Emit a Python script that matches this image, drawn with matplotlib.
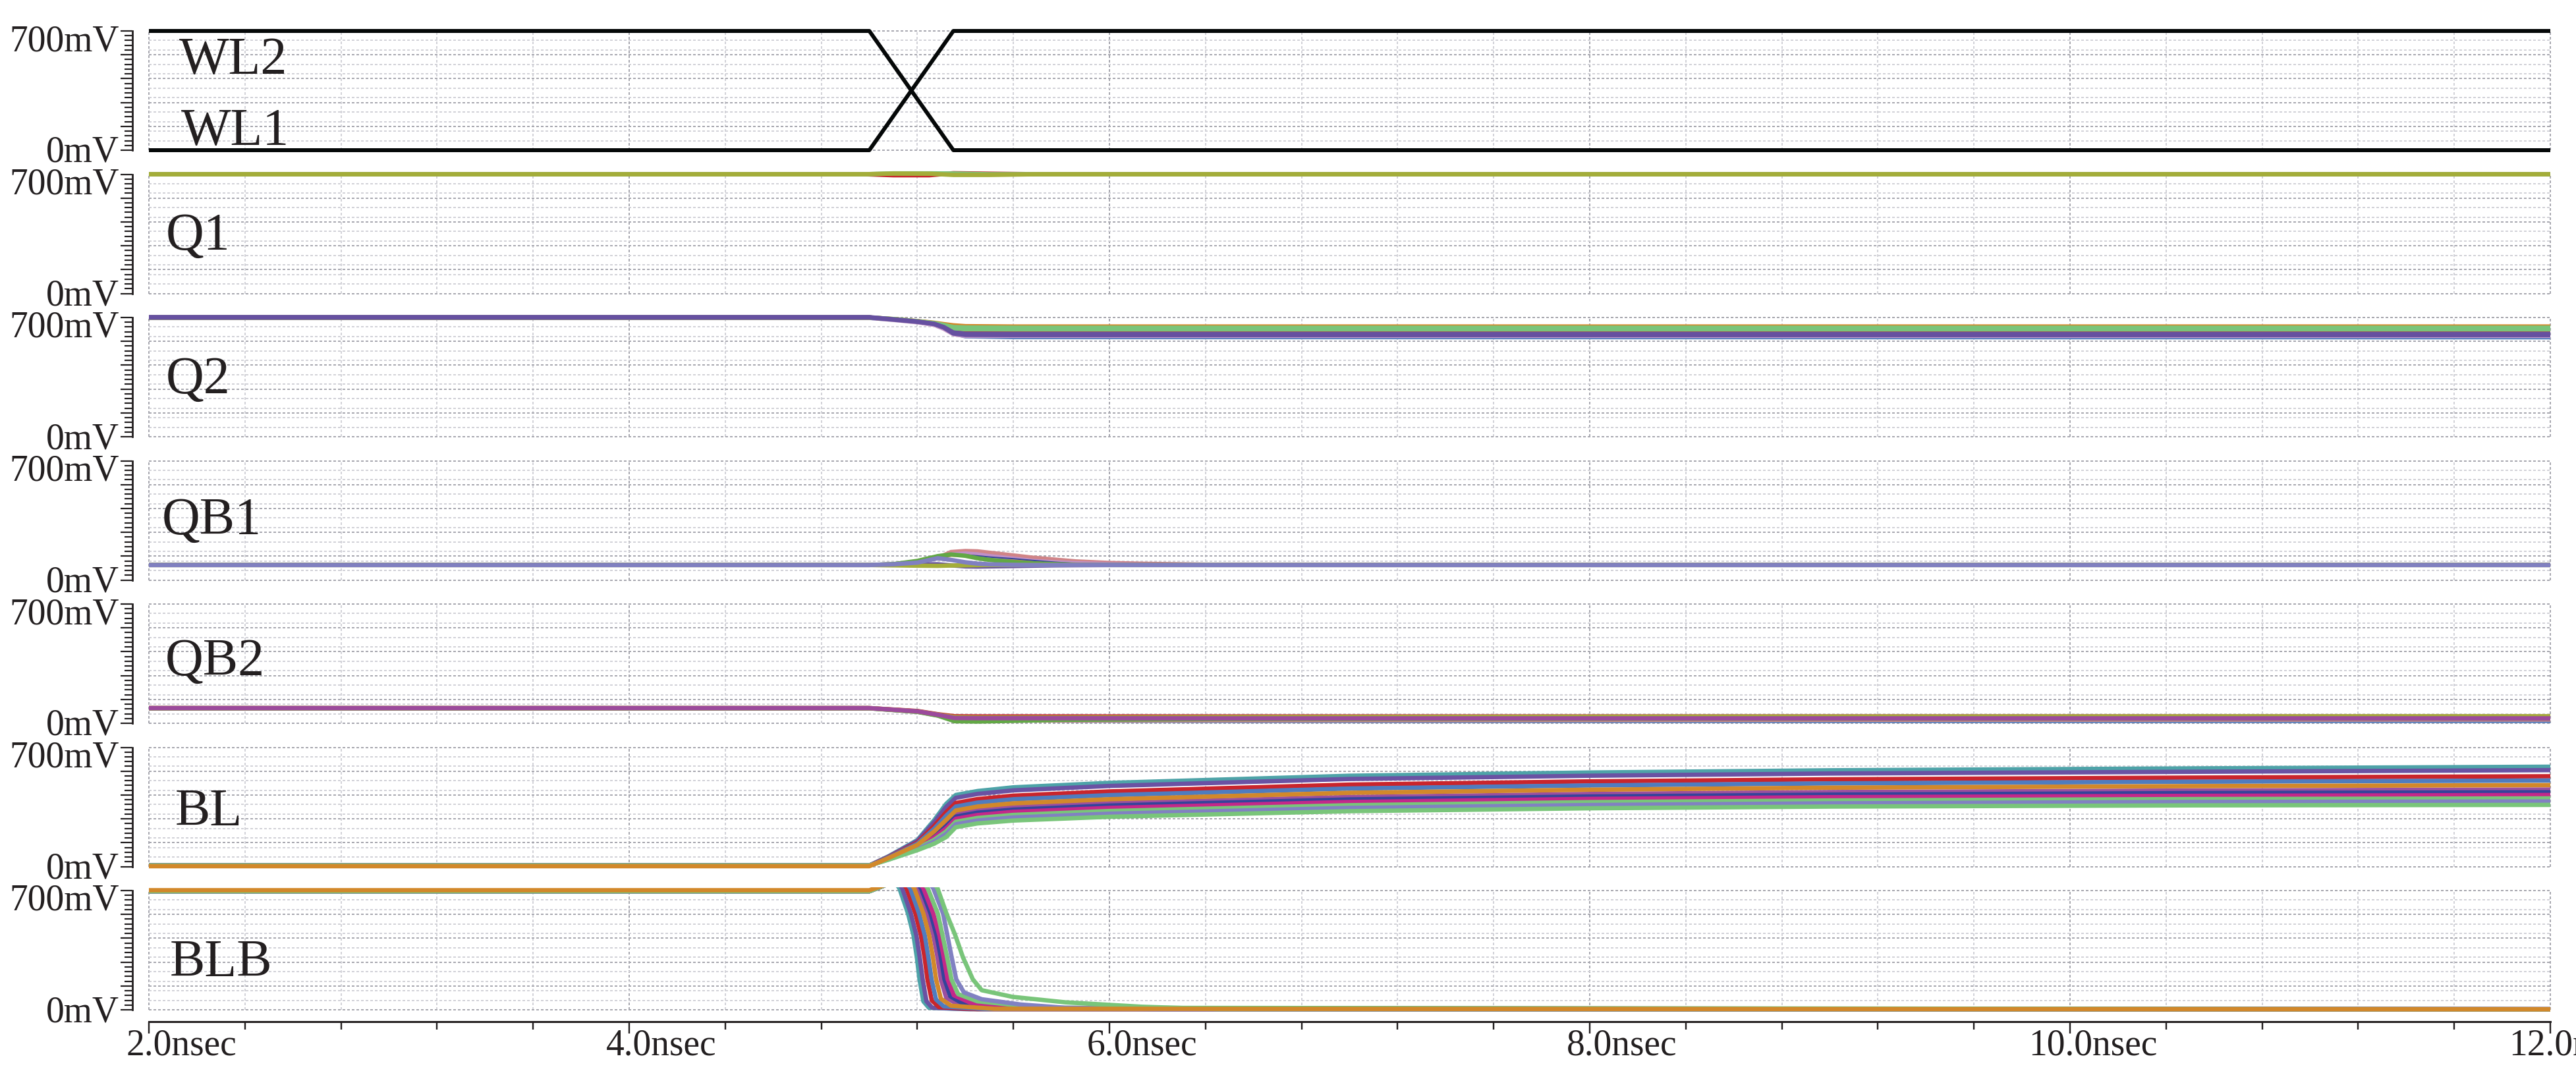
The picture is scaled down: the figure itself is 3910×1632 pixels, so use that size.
import matplotlib
matplotlib.use('Agg')
import matplotlib.pyplot as plt
from matplotlib.transforms import ScaledTranslation
from matplotlib.patches import Rectangle
from matplotlib.ticker import MultipleLocator

plt.rcParams['font.family'] = ['Liberation Serif', 'DejaVu Serif']

# ------------------------------------------------------------------ data
PANEL_NAMES = ['WL', 'Q1', 'Q2', 'QB1', 'QB2', 'BL', 'BLB']
X_TICKS = [2, 4, 6, 8, 10, 12]
X_TICK_LABELS = ['2.0nsec', '4.0nsec', '6.0nsec', '8.0nsec', '10.0nsec', '12.0nsec']
Y_TICKS = [0, 140, 280, 420, 560, 700]
Y_TICK_LABELS = ['0mV', '', '', '', '', '700mV']

# word lines
WL_T = [2.0, 5.0, 5.35, 12.0]
WL1_V = [0, 0, 700, 700]
WL2_V = [700, 700, 0, 0]

# Q1 (mV)
Q1_T = [2.0, 4.98, 5.1, 5.25, 5.35, 5.5, 5.7, 12.0]
Q1_RED = [700, 700, 694, 694, 706, 703, 700, 700]
Q1_GREEN = [700, 700, 705, 705, 704, 700, 700, 700]
Q1_OLIVE = [700, 700, 704, 703, 696, 696, 700, 700]

# Q2 (mV)
Q2_T = [2.0, 5.0, 5.1, 5.2, 5.27, 5.31, 5.35, 5.4, 5.6, 12.0]
Q2_BLUE = [698, 698, 687, 674, 660, 638, 606, 590, 585, 584]
Q2_PINK = [698, 698, 686, 672, 657, 634, 602, 592, 592, 592]
Q2_RED = [700, 700, 690, 677, 665, 650, 628, 623, 622, 622]
Q2_ORANGE = [700, 700, 691, 679, 669, 661, 654, 649, 647, 647]
Q2_GREEN_A = [700, 700, 691, 678, 667, 656, 644, 641, 640, 640]
Q2_GREEN_B = [700, 700, 690, 677, 665, 652, 636, 631, 630, 630]
Q2_PURPLE_A = [702, 702, 689, 676, 663, 644, 612, 604, 603, 603]
Q2_PURPLE_B = [700, 700, 688, 675, 662, 641, 606, 598, 597, 597]

# QB1 (mV)
QB1_T = [2.0, 5.0, 5.1, 5.2, 5.285, 5.34, 5.40, 5.45, 5.5, 5.6, 5.68, 5.77, 5.86, 6.0, 6.14, 6.4, 12.0]
QB1_PINK = [88, 88, 92, 105, 129, 164, 170, 168, 160, 144, 131, 120, 109, 100, 95, 90, 88]
QB1_LILAC = [88, 88, 92, 104, 130, 150, 155, 150, 140, 125, 112, 104, 98, 93, 90, 88, 88]
QB1_ORANGE = [88, 88, 91, 103, 128, 140, 138, 130, 124, 116, 108, 100, 95, 91, 89, 88, 88]
QB1_DKBLUE = [88, 88, 91, 103, 127, 145, 148, 142, 135, 125, 115, 105, 97, 92, 89, 88, 88]
QB1_GREEN = [88, 88, 93, 112, 140, 150, 142, 128, 118, 105, 98, 93, 90, 88, 88, 88, 88]
QB1_PURPLE = [88, 88, 88, 92, 92, 86, 80, 79, 80, 82, 84, 86, 87, 88, 88, 88, 88]
QB1_OLIVE = [88, 88, 86, 84, 83, 85, 86, 87, 88, 88, 88, 88, 88, 88, 88, 88, 88]
QB1_LAVENDER = [88, 88, 92, 102, 128, 118, 104, 96, 92, 89, 88, 88, 88, 88, 88, 88, 88]

# QB2 (mV)
QB2_T = [2.0, 5.0, 5.2, 5.285, 5.355, 5.45, 5.8, 6.5, 8.5, 12.0]
QB2_RED = [89, 89, 72, 53, 41, 40, 40, 40, 40, 40]
QB2_BLUE = [88, 88, 68, 47, 27, 20, 16, 14, 14, 14]
QB2_PINK = [88, 88, 68, 46, 22, 17, 17, 18, 20, 22]
QB2_GREEN = [88, 88, 67, 45, 12, 10, 20, 25, 27, 28]
QB2_OLIVE = [89, 89, 70, 51, 36, 34, 34, 36, 39, 41]
QB2_VIOLET = [89, 89, 70, 50, 31, 30, 30, 29, 29, 29]

# Monte-Carlo runs shown on BL / BLB
RUN_COLORS = ['#4ea3a8', '#6a52a3', '#c9252c', '#4f7cbf', '#d2882a', '#9b4f9f',
              '#33449a', '#c4288a', '#79c57a', '#8181c2', '#79c57a']
RUN_ORDER = [0, 1, 2, 3, 5, 6, 7, 8, 9, 10, 4]

BL_T = [2.0, 5.0, 5.08, 5.2, 5.27, 5.32, 5.36, 5.45, 5.6, 6.0, 7.0, 8.0, 9.0, 10.5, 12.0]
BL_V = [
    [6, 6, 60, 155, 272, 368, 420, 443, 465, 491, 533, 552, 565, 576, 586],
    [6, 6, 58, 150, 260, 350, 403, 426, 447, 473, 514, 533, 546, 556, 566],
    [6, 6, 55, 140, 238, 319, 373, 396, 416, 441, 481, 500, 512, 522, 530],
    [6, 6, 53, 134, 222, 298, 352, 375, 395, 419, 458, 476, 488, 498, 505],
    [2, 2, 50, 127, 206, 274, 329, 352, 371, 395, 433, 451, 463, 472, 478],
    [6, 6, 48, 120, 189, 251, 307, 329, 348, 372, 408, 426, 437, 446, 452],
    [6, 6, 47, 115, 180, 237, 293, 316, 334, 358, 394, 411, 422, 431, 436],
    [6, 6, 45, 111, 170, 224, 280, 302, 321, 344, 379, 397, 407, 415, 420],
    [6, 6, 43, 106, 157, 206, 263, 285, 303, 326, 360, 378, 388, 396, 400],
    [6, 6, 42, 101, 146, 191, 248, 270, 288, 310, 344, 361, 371, 379, 382],
    [6, 6, 40, 96, 134, 173, 231, 253, 270, 292, 325, 342, 352, 359, 362],
]

BLB_T = [
    [2.0, 5.0, 5.09, 5.100, 5.125, 5.161, 5.184, 5.198, 5.209, 5.225, 5.248, 5.40, 12.0],
    [2.0, 5.0, 5.09, 5.112, 5.137, 5.173, 5.196, 5.210, 5.222, 5.238, 5.262, 5.42, 12.0],
    [2.0, 5.0, 5.09, 5.130, 5.155, 5.192, 5.215, 5.230, 5.242, 5.260, 5.290, 5.45, 12.0],
    [2.0, 5.0, 5.09, 5.145, 5.170, 5.207, 5.231, 5.246, 5.259, 5.278, 5.310, 5.48, 12.0],
    [2.0, 5.0, 5.09, 5.162, 5.187, 5.225, 5.249, 5.265, 5.278, 5.298, 5.340, 5.52, 12.0],
    [2.0, 5.0, 5.09, 5.178, 5.203, 5.242, 5.267, 5.284, 5.298, 5.320, 5.370, 5.58, 12.0],
    [2.0, 5.0, 5.09, 5.190, 5.215, 5.255, 5.280, 5.298, 5.313, 5.337, 5.390, 5.62, 12.0],
    [2.0, 5.0, 5.09, 5.200, 5.225, 5.266, 5.292, 5.310, 5.326, 5.352, 5.420, 5.66, 12.0],
    [2.0, 5.0, 5.09, 5.218, 5.243, 5.285, 5.305, 5.324, 5.342, 5.370, 5.450, 5.72, 12.0],
    [2.0, 5.0, 5.09, 5.241, 5.266, 5.307, 5.325, 5.343, 5.362, 5.394, 5.468, 5.63, 5.815, 6.2, 12.0],
    [2.0, 5.0, 5.09, 5.259, 5.284, 5.321, 5.358, 5.390, 5.431, 5.468, 5.596, 5.815, 6.134, 6.45, 12.0],
]
BLB_V = [
    [696, 696, 745, 760, 714, 566, 437, 308, 179, 50, 12, 4, 3],
    [696, 696, 745, 760, 714, 566, 437, 308, 179, 50, 12, 4, 3],
    [696, 696, 745, 760, 714, 566, 437, 308, 179, 55, 16, 4, 3],
    [696, 696, 745, 760, 714, 566, 437, 308, 179, 60, 20, 5, 3],
    [702, 702, 745, 760, 714, 566, 437, 308, 179, 65, 24, 6, 3],
    [696, 696, 745, 760, 714, 566, 437, 308, 179, 72, 30, 8, 3],
    [696, 696, 745, 760, 714, 566, 437, 308, 179, 80, 36, 9, 3],
    [696, 696, 745, 760, 714, 566, 437, 308, 179, 85, 42, 10, 3],
    [696, 696, 745, 760, 714, 566, 437, 308, 179, 92, 50, 12, 3],
    [696, 696, 745, 760, 714, 566, 437, 308, 179, 102, 62, 31, 12, 3, 3],
    [696, 696, 745, 760, 714, 566, 437, 308, 179, 115, 76, 44, 18, 4, 3],
]

# ------------------------------------------------------------------ style / layout
W, H, DPI = 3910, 1632, 100
LEFT, RIGHT = 226, 3871
TOP0, PITCH, PH = 47, 217.5, 181
INK = '#231f20'
GRID_DARK = '#a8a8b0'
GRID_LIGHT = '#d2d2d8'
Y_GRID_MINOR = [56, 112, 168, 224, 308, 364, 448, 504, 588, 644]
X_GRID_STEP = 0.4
TRACE_LW_PX = 6.6
FS_TICK = 40
FS_NAME = 57.6
# panel-name positions (time, mV baseline)
NAME_POS = {'WL2': (2.125, 449), 'WL1': (2.135, 31), 'Q1': (2.070, 259), 'Q2': (2.070, 255),
            'QB1': (2.055, 271), 'QB2': (2.068, 282), 'BL': (2.110, 240), 'BLB': (2.088, 197)}


def pt(px):
    return px * 72.0 / DPI


fig = plt.figure(figsize=(W / DPI, H / DPI), dpi=DPI)
fig.patch.set_facecolor('white')

axes = []
for i in range(7):
    top = TOP0 + i * PITCH
    ax = fig.add_axes([LEFT / W, 1 - (top + PH) / H, (RIGHT - LEFT) / W, PH / H])
    ax.set_xlim(2, 12)
    ax.set_ylim(0, 700)
    ax.patch.set_visible(False)
    for s in ['top', 'right', 'bottom']:
        ax.spines[s].set_visible(False)
    ax.spines['left'].set_position(('outward', pt(25)))
    ax.spines['left'].set_linewidth(pt(2.8))
    ax.spines['left'].set_color(INK)
    ax.set_yticks(Y_TICKS)
    ax.set_yticklabels(Y_TICK_LABELS)
    ax.yaxis.set_minor_locator(MultipleLocator(28))
    ax.tick_params(axis='y', which='major', length=pt(18), width=pt(2.2), pad=pt(2),
                   labelsize=FS_TICK, colors=INK, direction='out')
    ax.tick_params(axis='y', which='minor', length=pt(12), width=pt(2.2), colors=INK, direction='out')
    for lab in ax.get_yticklabels():
        if lab.get_text() == '700mV':
            dy = -10
        else:
            dy = 2
        lab.set_transform(lab.get_transform() + ScaledTranslation(0, dy / DPI, fig.dpi_scale_trans))

    # grid
    gkw = dict(lw=pt(2), ls=(0, (2, 1.5)), zorder=0.5, clip_on=False)
    t = 2.0
    k = 0
    while k <= 25:
        tv = 2.0 + k * X_GRID_STEP
        if k % 5 == 0:
            ax.axvline(tv, color=GRID_DARK, **gkw)
        else:
            ax.axvline(tv, color=GRID_LIGHT, **gkw)
        k += 1
    for v in Y_GRID_MINOR:
        ax.axhline(v, color=GRID_LIGHT, **gkw)
    for v in Y_TICKS:
        ax.axhline(v, color=GRID_DARK, **gkw)

    if i < 6:
        ax.tick_params(axis='x', which='both', bottom=False, labelbottom=False)
    axes.append(ax)

# bottom time axis
axb = axes[-1]
axb.spines['bottom'].set_visible(True)
axb.spines['bottom'].set_position(('outward', pt(18)))
axb.spines['bottom'].set_linewidth(pt(3))
axb.spines['bottom'].set_color(INK)
axb.set_xticks(X_TICKS)
axb.set_xticklabels(X_TICK_LABELS)
axb.xaxis.set_minor_locator(MultipleLocator(X_GRID_STEP))
axb.tick_params(axis='x', which='major', length=pt(18), width=pt(2.4), pad=pt(-7),
                labelsize=FS_TICK, colors=INK, direction='out')
axb.tick_params(axis='x', which='minor', length=pt(12), width=pt(2.4), colors=INK, direction='out')
em_px = FS_TICK * DPI / 72.0
for lab in axb.get_xticklabels():
    txt = lab.get_text()
    ndig = len(txt.split('.')[0])
    dx = -(ndig * 0.5 + 0.125) * em_px
    lab.set_ha('left')
    lab.set_transform(lab.get_transform() + ScaledTranslation(dx / DPI, 0, fig.dpi_scale_trans))

LW = pt(TRACE_LW_PX)


def trace(ax, x, y, color, lw=LW, clip=None):
    ln, = ax.plot(x, y, color=color, lw=lw, solid_capstyle='butt', solid_joinstyle='round', zorder=2)
    if clip is None:
        ln.set_clip_on(False)
    else:
        ln.set_clip_path(clip)
    return ln


# WL panel
a = axes[0]
trace(a, WL_T, WL1_V, '#050808', lw=pt(6))
trace(a, WL_T, WL2_V, '#050808', lw=pt(6))

# Q1
a = axes[1]
trace(a, Q1_T, Q1_RED, '#c9252c')
trace(a, Q1_T, Q1_GREEN, '#79c57a')
trace(a, Q1_T, Q1_OLIVE, '#a4ad39')

# Q2
a = axes[2]
trace(a, Q2_T, Q2_BLUE, '#4f7cbf')
trace(a, Q2_T, Q2_PINK, '#c99cc9')
trace(a, Q2_T, Q2_RED, '#c9252c')
trace(a, Q2_T, Q2_ORANGE, '#d2882a')
trace(a, Q2_T, Q2_GREEN_A, '#79c57a')
trace(a, Q2_T, Q2_GREEN_B, '#79c57a')
trace(a, Q2_T, Q2_PURPLE_A, '#6650a0')
trace(a, Q2_T, Q2_PURPLE_B, '#6650a0')

# QB1
a = axes[3]
trace(a, QB1_T, QB1_PINK, '#d08487')
trace(a, QB1_T, QB1_LILAC, '#c090c8')
trace(a, QB1_T, QB1_ORANGE, '#d2882a', lw=pt(2))
trace(a, QB1_T, QB1_DKBLUE, '#33449a', lw=pt(2))
trace(a, QB1_T, QB1_GREEN, '#62a845')
trace(a, QB1_T, QB1_PURPLE, '#6650a0')
trace(a, QB1_T, QB1_OLIVE, '#a4ad39')
trace(a, QB1_T, QB1_LAVENDER, '#8080c0')

# QB2
a = axes[4]
trace(a, QB2_T, QB2_RED, '#c9252c')
trace(a, QB2_T, QB2_BLUE, '#4f7cbf')
trace(a, QB2_T, QB2_PINK, '#d08487')
trace(a, QB2_T, QB2_GREEN, '#62a845')
trace(a, QB2_T, QB2_OLIVE, '#a4ad39')
trace(a, QB2_T, QB2_VIOLET, '#9c4a9c')

# BL
a = axes[5]
for r in RUN_ORDER:
    trace(a, BL_T, BL_V[r], RUN_COLORS[r])

# BLB (clipped a few px above the panel top)
a = axes[6]
clip_rect = Rectangle((-0.01, -0.2), 1.02, 1.225, transform=a.transAxes, visible=False)
a.add_patch(clip_rect)
for r in RUN_ORDER:
    trace(a, BLB_T[r], BLB_V[r], RUN_COLORS[r], clip=clip_rect)

# panel names
name_kw = dict(fontsize=FS_NAME, color=INK, va='baseline', ha='left', zorder=3)
axes[0].text(*NAME_POS['WL2'], 'WL2', **name_kw)
axes[0].text(*NAME_POS['WL1'], 'WL1', **name_kw)
for i, nm in enumerate(PANEL_NAMES[1:], start=1):
    axes[i].text(*NAME_POS[nm], nm, **name_kw)

fig.savefig('out.png', dpi=DPI, facecolor='white')
